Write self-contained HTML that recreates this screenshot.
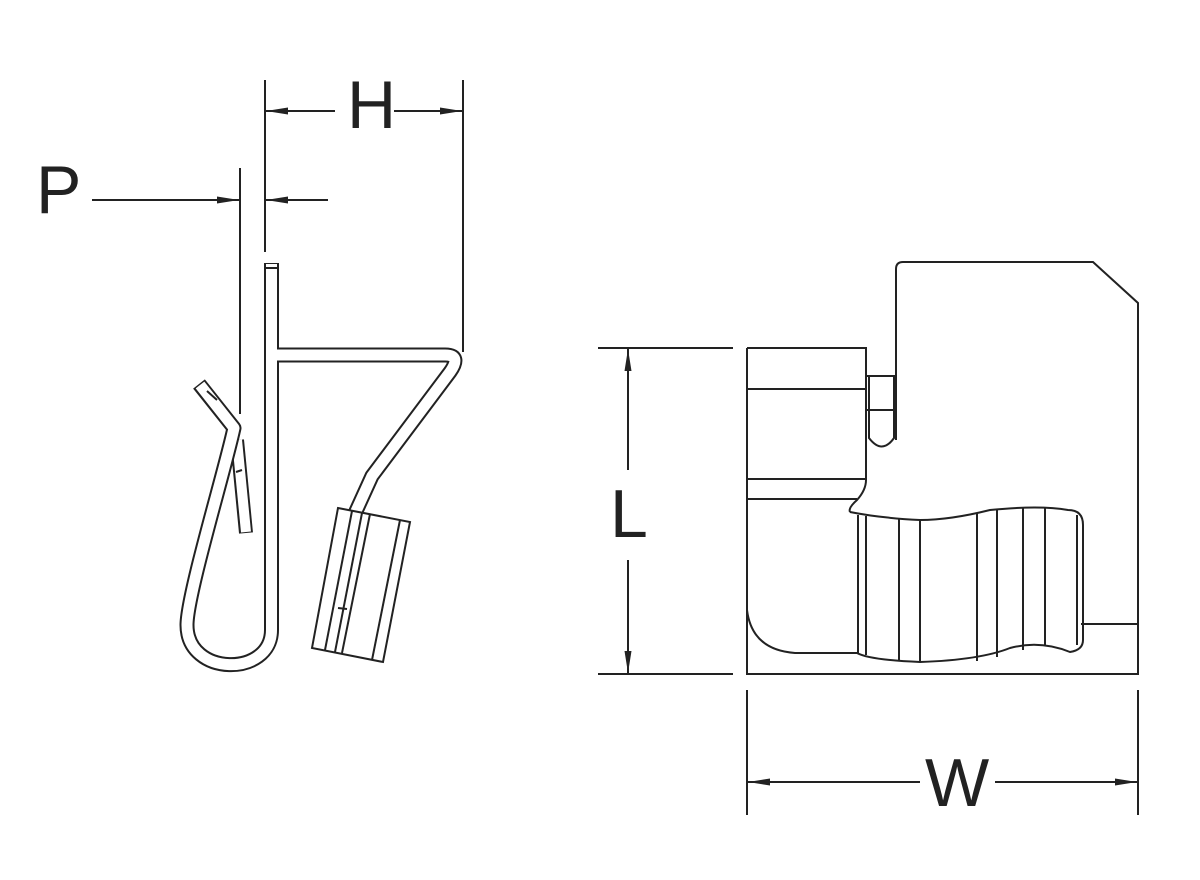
<!DOCTYPE html>
<html><head><style>body{margin:0;background:#fff}svg{display:block}</style></head><body>
<svg width="1200" height="880" viewBox="0 0 1200 880" xmlns="http://www.w3.org/2000/svg">
<defs>
<marker id="a" markerWidth="22" markerHeight="9" refX="22" refY="4.5" orient="auto" markerUnits="userSpaceOnUse"><path d="M0,1 L22,4.5 L0,8 Z" fill="#222"/></marker>
</defs>
<g stroke="#222" stroke-width="2" fill="none">
<line x1="265" y1="80" x2="265" y2="252"/>
<line x1="463" y1="80" x2="463" y2="352"/>
<line x1="240" y1="168" x2="240" y2="414"/>
<line x1="335" y1="111" x2="266" y2="111" marker-end="url(#a)"/>
<line x1="394" y1="111" x2="462" y2="111" marker-end="url(#a)"/>
<line x1="92" y1="200" x2="239" y2="200" marker-end="url(#a)"/>
<line x1="328" y1="200" x2="266" y2="200" marker-end="url(#a)"/>
<line x1="598" y1="348" x2="733" y2="348"/>
<line x1="598" y1="674" x2="733" y2="674"/>
<line x1="628" y1="470" x2="628" y2="349" marker-end="url(#a)"/>
<line x1="628" y1="560" x2="628" y2="673" marker-end="url(#a)"/>
<line x1="747" y1="690" x2="747" y2="815"/>
<line x1="1138" y1="690" x2="1138" y2="815"/>
<line x1="920" y1="782" x2="748" y2="782" marker-end="url(#a)"/>
<line x1="995" y1="782" x2="1137" y2="782" marker-end="url(#a)"/>
</g>
<g font-family="Liberation Sans, sans-serif" font-size="68" fill="#222">
<text x="347" y="128">H</text>
<text x="36" y="213">P</text>
<text x="610" y="537">L</text>
<text x="925" y="806">W</text>
</g>
<g fill="none" stroke-linejoin="round" stroke-linecap="butt">
<path d="M246,533 L237,440" stroke="#222" stroke-width="14"/>
<path d="M246,532 L237,440" stroke="#fff" stroke-width="10"/>
<path d="M271.5,263 L271.5,630 C271.5,677 187,677 187,625 C187,595 225,470 234,428 L199,384" stroke="#222" stroke-width="15"/>
<path d="M271.5,355 L445,355 Q462,355 450,372 L372,476 L352,520" stroke="#222" stroke-width="15"/>
<path d="M271.5,264 L271.5,630 C271.5,677 187,677 187,625 C187,595 225,470 234,428 L200,385" stroke="#fff" stroke-width="11"/>
<path d="M271.5,355 L445,355 Q462,355 450,372 L372,476 L352,520" stroke="#fff" stroke-width="11"/>
</g>
<g stroke="#222" stroke-width="2" fill="none">
<line x1="265" y1="268" x2="278" y2="268"/>
<line x1="207" y1="391" x2="217" y2="400"/>
<line x1="236" y1="472" x2="242" y2="470"/>
<path d="M338,508 L410,522 L383,662 L312,648 Z" fill="#fff"/>
<line x1="352" y1="511" x2="325" y2="650"/>
<line x1="362" y1="513" x2="335" y2="652"/>
<line x1="370" y1="514" x2="342" y2="653"/>
<line x1="400" y1="520" x2="372" y2="660"/>
<line x1="338" y1="608" x2="347" y2="609"/>
<path d="M747,348 L866,348 L866,480 Q866,490 857,500 Q848,508 850,512 M747,348 L747,674 L1138,674 L1138,303 L1093,262 L903,262 Q896,262 896,269 L896,440"/>
<line x1="747" y1="389" x2="866" y2="389"/>
<line x1="747" y1="479" x2="866" y2="479"/>
<line x1="747" y1="499" x2="857" y2="499"/>
<path d="M866,376 L896,376 M866,410 L896,410 M869,376 L869,438 Q882,455 894,438 L894,376"/>
<line x1="1081" y1="624" x2="1138" y2="624"/>
<path d="M747,610 Q752,650 795,653 L857,653 Q870,660 920,662 Q980,660 1010,648 Q1040,640 1070,652 Q1083,650 1083,640 L1083,525 Q1083,510 1068,510 Q1040,505 990,510 Q950,520 920,520 Q880,518 850,512"/>
<path d="M1077,515 L1077,645"/>
<line x1="858" y1="515" x2="858" y2="653"/>
<line x1="866" y1="516" x2="866" y2="655"/>
<line x1="899" y1="519" x2="899" y2="660"/>
<line x1="920" y1="520" x2="920" y2="662"/>
<line x1="977" y1="513" x2="977" y2="661"/>
<line x1="997" y1="509" x2="997" y2="657"/>
<line x1="1023" y1="508" x2="1023" y2="650"/>
<line x1="1045" y1="508" x2="1045" y2="646"/>
</g>
</svg>
</body></html>
